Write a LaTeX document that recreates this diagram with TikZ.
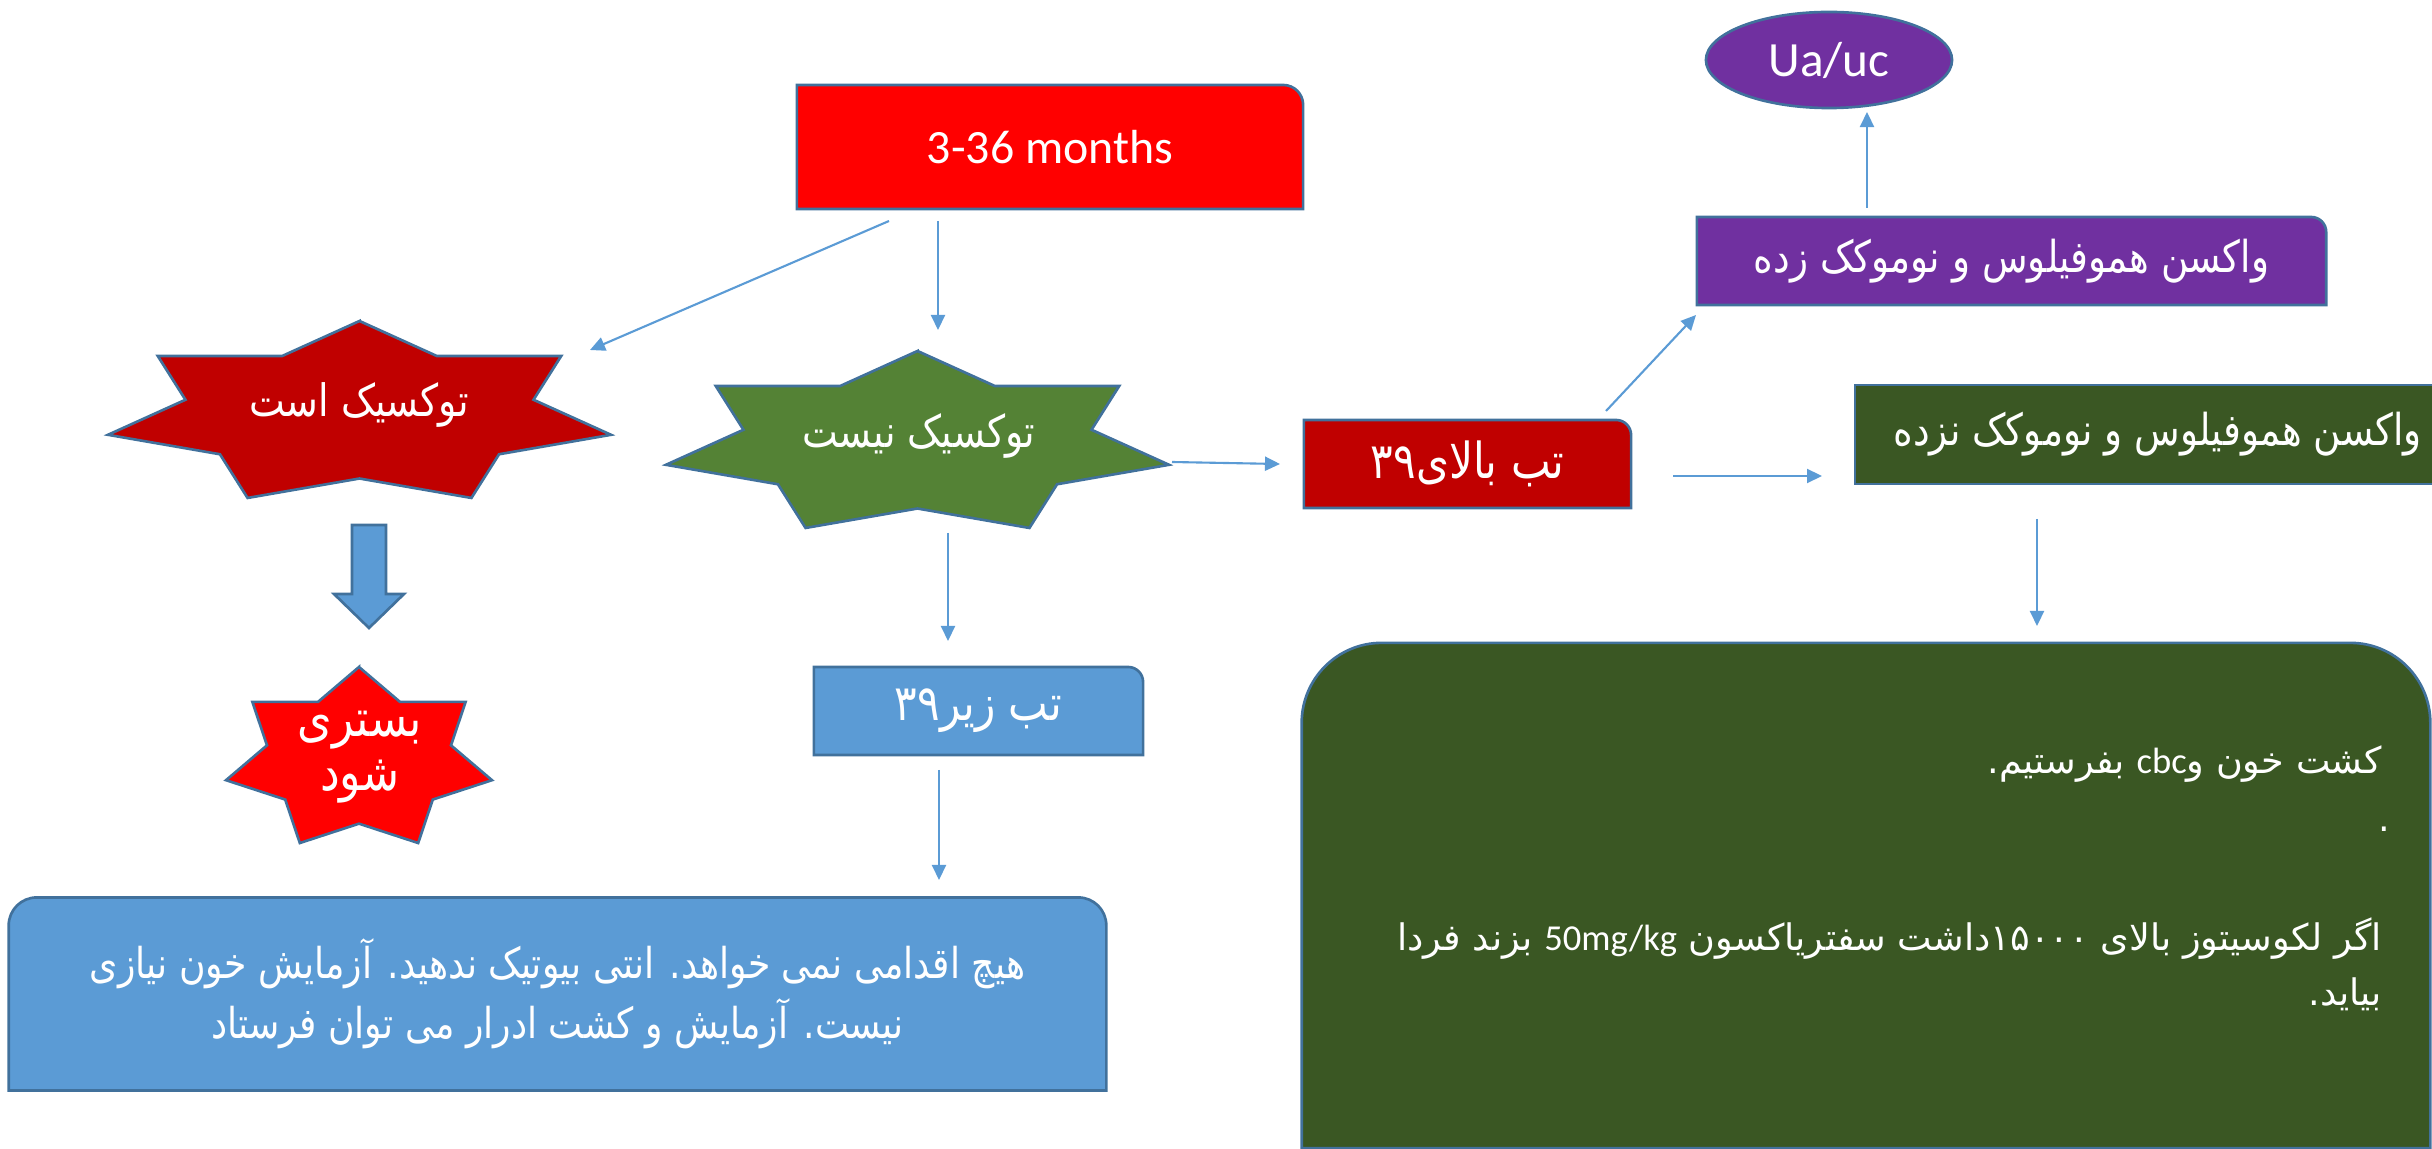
\documentclass[tikz,border=0pt]{standalone}
\usepackage{fontspec}
\setmainfont{Carlito}
\newfontfamily\fa[Script=Arabic,FakeStretch=0.85]{DejaVu Sans}
\newfontfamily\faw[Script=Arabic]{DejaVu Sans}
\TeXXeTstate=1
\usetikzlibrary{arrows.meta,shapes.geometric,backgrounds}

\definecolor{brightred}{HTML}{FF0000}
\definecolor{darkred}{HTML}{C00000}
\definecolor{leafgreen}{HTML}{548235}
\definecolor{forest}{HTML}{3A5723}
\definecolor{sky}{HTML}{5B9BD5}
\definecolor{plum}{HTML}{7030A0}
\definecolor{edgeblue}{HTML}{41719C}

% seven pointed star: centre, x radius, y radius, fill
\newcommand{\sevenstar}[4]{%
  \draw[shapeline,fill=#4,shift={#1},xscale=#2,yscale=#3]
    (90:1) \foreach \k in {0,...,6} {
      -- ({115.714+\k*51.429}:0.692) -- ({141.429+\k*51.429}:1)} -- cycle;}
% box with the top right corner rounded
\newcommand{\roundNE}[3]{%
  \draw[shapeline,fill=#3] (#1.south west) -- (#1.north west)
    -- ([xshift=-#2]#1.north east) arc[start angle=90,end angle=0,radius=#2]
    -- (#1.south east) -- cycle;}
% box with both top corners rounded
\newcommand{\roundtop}[3]{%
  \draw[shapeline,fill=#3] (#1.south west) -- ([yshift=-#2]#1.north west)
    arc[start angle=180,end angle=90,radius=#2]
    -- ([xshift=-#2]#1.north east) arc[start angle=90,end angle=0,radius=#2]
    -- (#1.south east) -- cycle;}

\begin{document}
\begin{tikzpicture}
        [x=0.01cm,y=0.01cm,
        shapeline/.style={draw=edgeblue,line width=0.75pt},
        fatext/.style={text=white,inner sep=0pt,outer sep=0pt,
          font=\fa\fontsize{#1}{17}\selectfont},
        fatext/.default=12.7,
        smalltext/.style={text=white,inner sep=0pt,outer sep=0pt,
          anchor=base east,font=\faw\fontsize{10.4}{12}\selectfont},
        entext/.style={text=white,inner sep=0pt,outer sep=0pt,
          font=\fontsize{13.6}{16}\selectfont},
        boxtext/.style={fatext=#1,minimum height=0.88cm},
        arr/.style={draw=sky,line width=0.6pt,
          -{Triangle[length=0.15cm,width=0.14cm]}}]
        \useasboundingbox (0,0) rectangle (2432,-1149);
        %% stars and the block arrow
        \sevenstar{(359.5,-414.1)}{258}{93.1}{darkred}
        \sevenstar{(917.5,-444.1)}{258}{93.1}{leafgreen}
        \sevenstar{(359,-759.6)}{136.4}{92.6}{brightred}
        \draw[shapeline,fill=sky] (352,-525) -- (386,-525) -- (386,-594)
          -- (404,-594) -- (369,-628) -- (334,-594) -- (352,-594) -- cycle;
        %% nodes
        \node[entext,minimum width=5.06cm,minimum height=1.24cm] (age) at (1050,-147) {3-36 months};
        \node[fatext] (toxic) at (359,-405) {\beginR توکسیک است\endR};
        \node[fatext] (calm) at (919,-436) {\beginR توکسیک نیست\endR};
        \node[fatext,align=center,font=\fa\fontsize{14.8}{15.5}\selectfont] (admit) at (360,-757)
          {\beginR بستری\endR\\\beginR شود\endR};
        \node[boxtext=14.1,minimum width=3.29cm] (lowfever) at (978.5,-711) {\beginR تب زیر۳۹\endR};
        \node[fatext=12.1,align=center,minimum width=10.97cm,minimum height=1.93cm] (advice) at (557.5,-994)
          {\beginR هیچ اقدامی نمی خواهد. انتی بیوتیک ندهید. آزمایش خون نیازی\endR\\
           \beginR نیست. آزمایش و کشت ادرار می توان فرستاد\endR};
        \node[boxtext=14.1,minimum width=3.27cm] (highfever) at (1467.5,-464) {\beginR تب بالای۳۹\endR};
        \node[boxtext=12.5,minimum width=6.29cm] (vacc) at (2011.5,-261) {\beginR واکسن هموفیلوس و نوموکک زده\endR};
        \node[entext,ellipse,shapeline,fill=plum,minimum width=2.46cm,minimum height=0.96cm,
          font=\fontsize{14}{16}\selectfont] (uauc) at (1829,-60) {Ua/uc};
        \node[boxtext=12.5,shapeline,fill=forest,minimum width=6.05cm,minimum height=0.99cm] (novacc) at (2157.5,-434.5)
          {\beginR واکسن هموفیلوس و نوموکک نزده\endR};
        \node[inner sep=0pt,outer sep=0pt,minimum width=11.28cm,minimum height=5.05cm] (workup) at (1866,-895.5) {};
        \node[smalltext] (culture) at (2382,-774)
          {\beginR کشت خون و\beginL{\rmfamily cbc}\endL{} بفرستیم.\endR};
        \node[smalltext] (dot) at (2390,-832) {.};
        \node[smalltext] (ceftri) at (2382,-951)
          {\beginR اگر لکوسیتوز بالای ۱۵۰۰۰داشت سفتریاکسون \beginL{\rmfamily 50mg/kg}\endL{} بزند فردا\endR};
        \node[smalltext] (comeback) at (2382,-1005) {\beginR بیاید.\endR};
        %% box outlines behind the texts
        \begin{scope}[on background layer]
          \roundNE{age}{0.2cm}{brightred}
          \roundNE{lowfever}{0.15cm}{sky}
          \roundNE{highfever}{0.15cm}{darkred}
          \roundNE{vacc}{0.15cm}{plum}
          \roundtop{advice}{0.28cm}{sky}
          \roundtop{workup}{0.8cm}{forest}
        \end{scope}
        %% connector ends
        \coordinate (ageL) at (889,-221);
        \coordinate (toxicIn) at (590,-350);
        \coordinate (ageR) at (938,-221);
        \coordinate (calmIn) at (938,-330);
        \coordinate (calmDown) at (948,-533);
        \coordinate (lowIn) at (948,-641);
        \coordinate (lowDown) at (939,-770);
        \coordinate (adviceIn) at (939,-880);
        \coordinate (calmSide) at (1172,-462);
        \coordinate (highIn) at (1280,-464);
        \coordinate (highUp) at (1606,-411);
        \coordinate (vaccIn) at (1696,-315);
        \coordinate (vaccUp) at (1867,-208);
        \coordinate (uaIn) at (1867,-112);
        \coordinate (highSide) at (1673,-476);
        \coordinate (novaccIn) at (1822,-476);
        \coordinate (novaccDown) at (2037,-519);
        \coordinate (workupIn) at (2037,-626);
        \path
        \foreach \startNode/\endNode in {ageL/toxicIn,ageR/calmIn,calmDown/lowIn,
          lowDown/adviceIn,calmSide/highIn,highUp/vaccIn,vaccUp/uaIn,
          highSide/novaccIn,novaccDown/workupIn}
        {
          (\startNode) edge[arr] (\endNode)
        };
\end{tikzpicture}
\end{document}
